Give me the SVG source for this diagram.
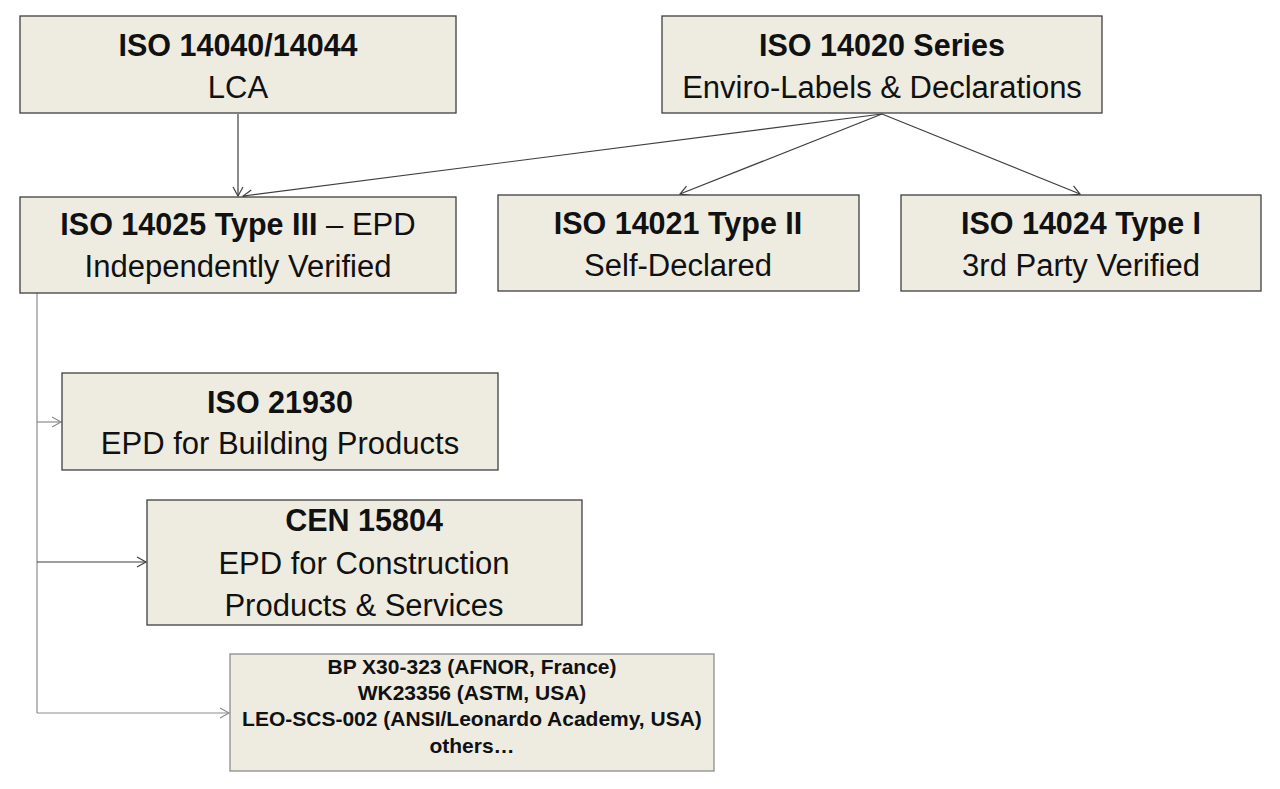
<svg xmlns="http://www.w3.org/2000/svg" width="1280" height="789" viewBox="0 0 1280 789">
  <style>
    .box { fill: #EEECE1; stroke: #3F3F3F; stroke-width: 1.3; }
    .boxl { fill: #EEECE1; stroke: #8C8C8C; stroke-width: 1.3; }
    text { font-family: "Liberation Sans", Arial, sans-serif; fill: #111111; text-anchor: middle; }
    .t { font-size: 30.5px; font-weight: bold; }
    .r { font-size: 31px; }
    .s { font-size: 21px; font-weight: bold; }
    .c { fill: none; stroke: #3F3F3F; stroke-width: 1.2; }
    .cg { fill: none; stroke: #8C8C8C; stroke-width: 1.2; }
  </style>
  <defs>
    <marker id="ad" viewBox="-10 -6 12 12" refX="0" refY="0" markerWidth="12" markerHeight="12" markerUnits="userSpaceOnUse" orient="auto">
      <path d="M-9,-5 L0,0 L-9,5" fill="none" stroke="#3F3F3F" stroke-width="1.2"/>
    </marker>
    <marker id="ag" viewBox="-10 -6 12 12" refX="0" refY="0" markerWidth="12" markerHeight="12" markerUnits="userSpaceOnUse" orient="auto">
      <path d="M-9,-5 L0,0 L-9,5" fill="none" stroke="#8C8C8C" stroke-width="1.2"/>
    </marker>
  </defs>
  <rect width="1280" height="789" fill="#FFFFFF"/>

  <g id="connectors">
    <line class="c" x1="238" y1="114" x2="238" y2="196" marker-end="url(#ad)"/>
    <line class="c" x1="882" y1="114" x2="243" y2="196" marker-end="url(#ad)"/>
    <line class="c" x1="882" y1="114" x2="680" y2="194" marker-end="url(#ad)"/>
    <line class="c" x1="882" y1="114" x2="1080" y2="194" marker-end="url(#ad)"/>
    <line class="cg" x1="37" y1="293" x2="37" y2="713"/>
    <line class="cg" x1="37" y1="422" x2="61" y2="422" marker-end="url(#ag)"/>
    <line class="c" x1="37" y1="562" x2="146" y2="562" marker-end="url(#ad)"/>
    <line class="cg" x1="37" y1="713" x2="229" y2="713" marker-end="url(#ag)"/>
  </g>

  <g id="iso14040">
    <rect class="box" x="20" y="16" width="436" height="97"/>
    <text class="t" x="238" y="56">ISO 14040/14044</text>
    <text class="r" x="238" y="98">LCA</text>
  </g>

  <g id="iso14020">
    <rect class="box" x="662" y="16" width="440" height="97"/>
    <text class="t" x="882" y="56">ISO 14020 Series</text>
    <text class="r" x="882" y="98">Enviro-Labels &amp; Declarations</text>
  </g>

  <g id="iso14025">
    <rect class="box" x="20" y="197" width="436" height="96"/>
    <text x="238" y="235"><tspan class="t">ISO 14025 Type III</tspan><tspan class="r"> – EPD</tspan></text>
    <text class="r" x="238" y="277">Independently Verified</text>
  </g>

  <g id="iso14021">
    <rect class="box" x="498" y="195" width="361" height="96"/>
    <text class="t" x="678" y="234">ISO 14021 Type II</text>
    <text class="r" x="678" y="276">Self-Declared</text>
  </g>

  <g id="iso14024">
    <rect class="box" x="901" y="195" width="360" height="96"/>
    <text class="t" x="1081" y="234">ISO 14024 Type I</text>
    <text class="r" x="1081" y="276">3rd Party Verified</text>
  </g>

  <g id="iso21930">
    <rect class="box" x="62" y="373" width="436" height="97"/>
    <text class="t" x="280" y="413">ISO 21930</text>
    <text class="r" x="280" y="454">EPD for Building Products</text>
  </g>

  <g id="cen15804">
    <rect class="box" x="147" y="500" width="435" height="125"/>
    <text class="t" x="364" y="531">CEN 15804</text>
    <text class="r" x="364" y="574">EPD for Construction</text>
    <text class="r" x="364" y="616">Products &amp; Services</text>
  </g>

  <g id="others">
    <rect class="boxl" x="230" y="654" width="484" height="117"/>
    <text class="s" x="472" y="674">BP X30-323 (AFNOR, France)</text>
    <text class="s" x="472" y="700">WK23356 (ASTM, USA)</text>
    <text class="s" x="472" y="726">LEO-SCS-002 (ANSI/Leonardo Academy, USA)</text>
    <text class="s" x="472" y="753">others…</text>
  </g>
</svg>
